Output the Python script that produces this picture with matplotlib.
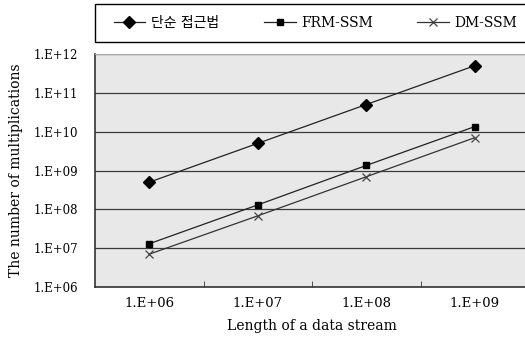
import numpy as np
import matplotlib.pyplot as plt
from matplotlib.patches import Rectangle
from matplotlib.ticker import FixedLocator, NullFormatter

plt.rcParams['font.family'] = ['DejaVu Serif', 'Noto Sans CJK KR']

stream_len = ['1.E+06', '1.E+07', '1.E+08', '1.E+09']
naive = [5.0e8, 5.0e9, 5.0e10, 5.0e11]
frm_ssm = [1.3e7, 1.3e8, 1.35e9, 1.35e10]
dm_ssm = [7.0e6, 6.8e7, 6.9e8, 7.0e9]
y_ticks = [1e6, 1e7, 1e8, 1e9, 1e10, 1e11, 1e12]
y_labels = ['1.E+06', '1.E+07', '1.E+08', '1.E+09', '1.E+10', '1.E+11', '1.E+12']

fig = plt.figure(figsize=(5.25, 3.39), dpi=100)
W, H = 525, 339
ax = fig.add_axes([95 / W, 1 - 287 / H, 434 / W, 233 / H])
ax.set_facecolor('#e8e8e8')

x = np.arange(len(stream_len))
ax.plot(x, naive, color='#222222', lw=0.9, marker='D', ms=6, mfc='black', mec='black', label='단순 접근법')
ax.plot(x, frm_ssm, color='#222222', lw=0.9, marker='s', ms=5, mfc='black', mec='black', label='FRM-SSM')
ax.plot(x, dm_ssm, color='#333333', lw=0.9, marker='x', ms=6, mec='#444444', mew=0.9, label='DM-SSM')

ax.set_yscale('log')
ax.set_ylim(1e6, 1e12)
ax.set_yticks(y_ticks)
ax.set_yticklabels(y_labels)
ax.yaxis.set_minor_locator(FixedLocator([]))
ax.grid(axis='y', color='#3a3a3a', lw=0.9)
ax.set_axisbelow(True)
ax.tick_params(axis='y', length=0, labelsize=8.5, pad=12)

ax.set_xlim(-0.5, 3.5)
ax.set_xticks(x)
ax.set_xticklabels(stream_len)
ax.tick_params(axis='x', length=0, labelsize=9.5, pad=7)
ax.set_xticks([0.5, 1.5, 2.5], minor=True)
ax.xaxis.set_minor_formatter(NullFormatter())
ax.tick_params(axis='x', which='minor', direction='in', length=4, color='#333333')

for side in ['left', 'bottom']:
    ax.spines[side].set_color('#333333')
    ax.spines[side].set_linewidth(1.2)
ax.spines['top'].set_color('#aaaaaa')
ax.spines['right'].set_visible(False)

ax.set_xlabel('Length of a data stream', fontsize=10, labelpad=7)
ax.set_ylabel('The number of multiplications', fontsize=10, labelpad=8)

# legend box across the top
fig.patches.append(Rectangle((95 / W, 1 - 42 / H), 440 / W, 38 / H, transform=fig.transFigure,
                             fill=False, edgecolor='black', lw=1.0))
fig.legend(loc='center left', bbox_to_anchor=(101 / W, 1 - 23 / H), ncol=3, frameon=False,
           fontsize=10, handlelength=2.3, handletextpad=0.4, columnspacing=3.2)

fig.savefig('out.png', dpi=100)
